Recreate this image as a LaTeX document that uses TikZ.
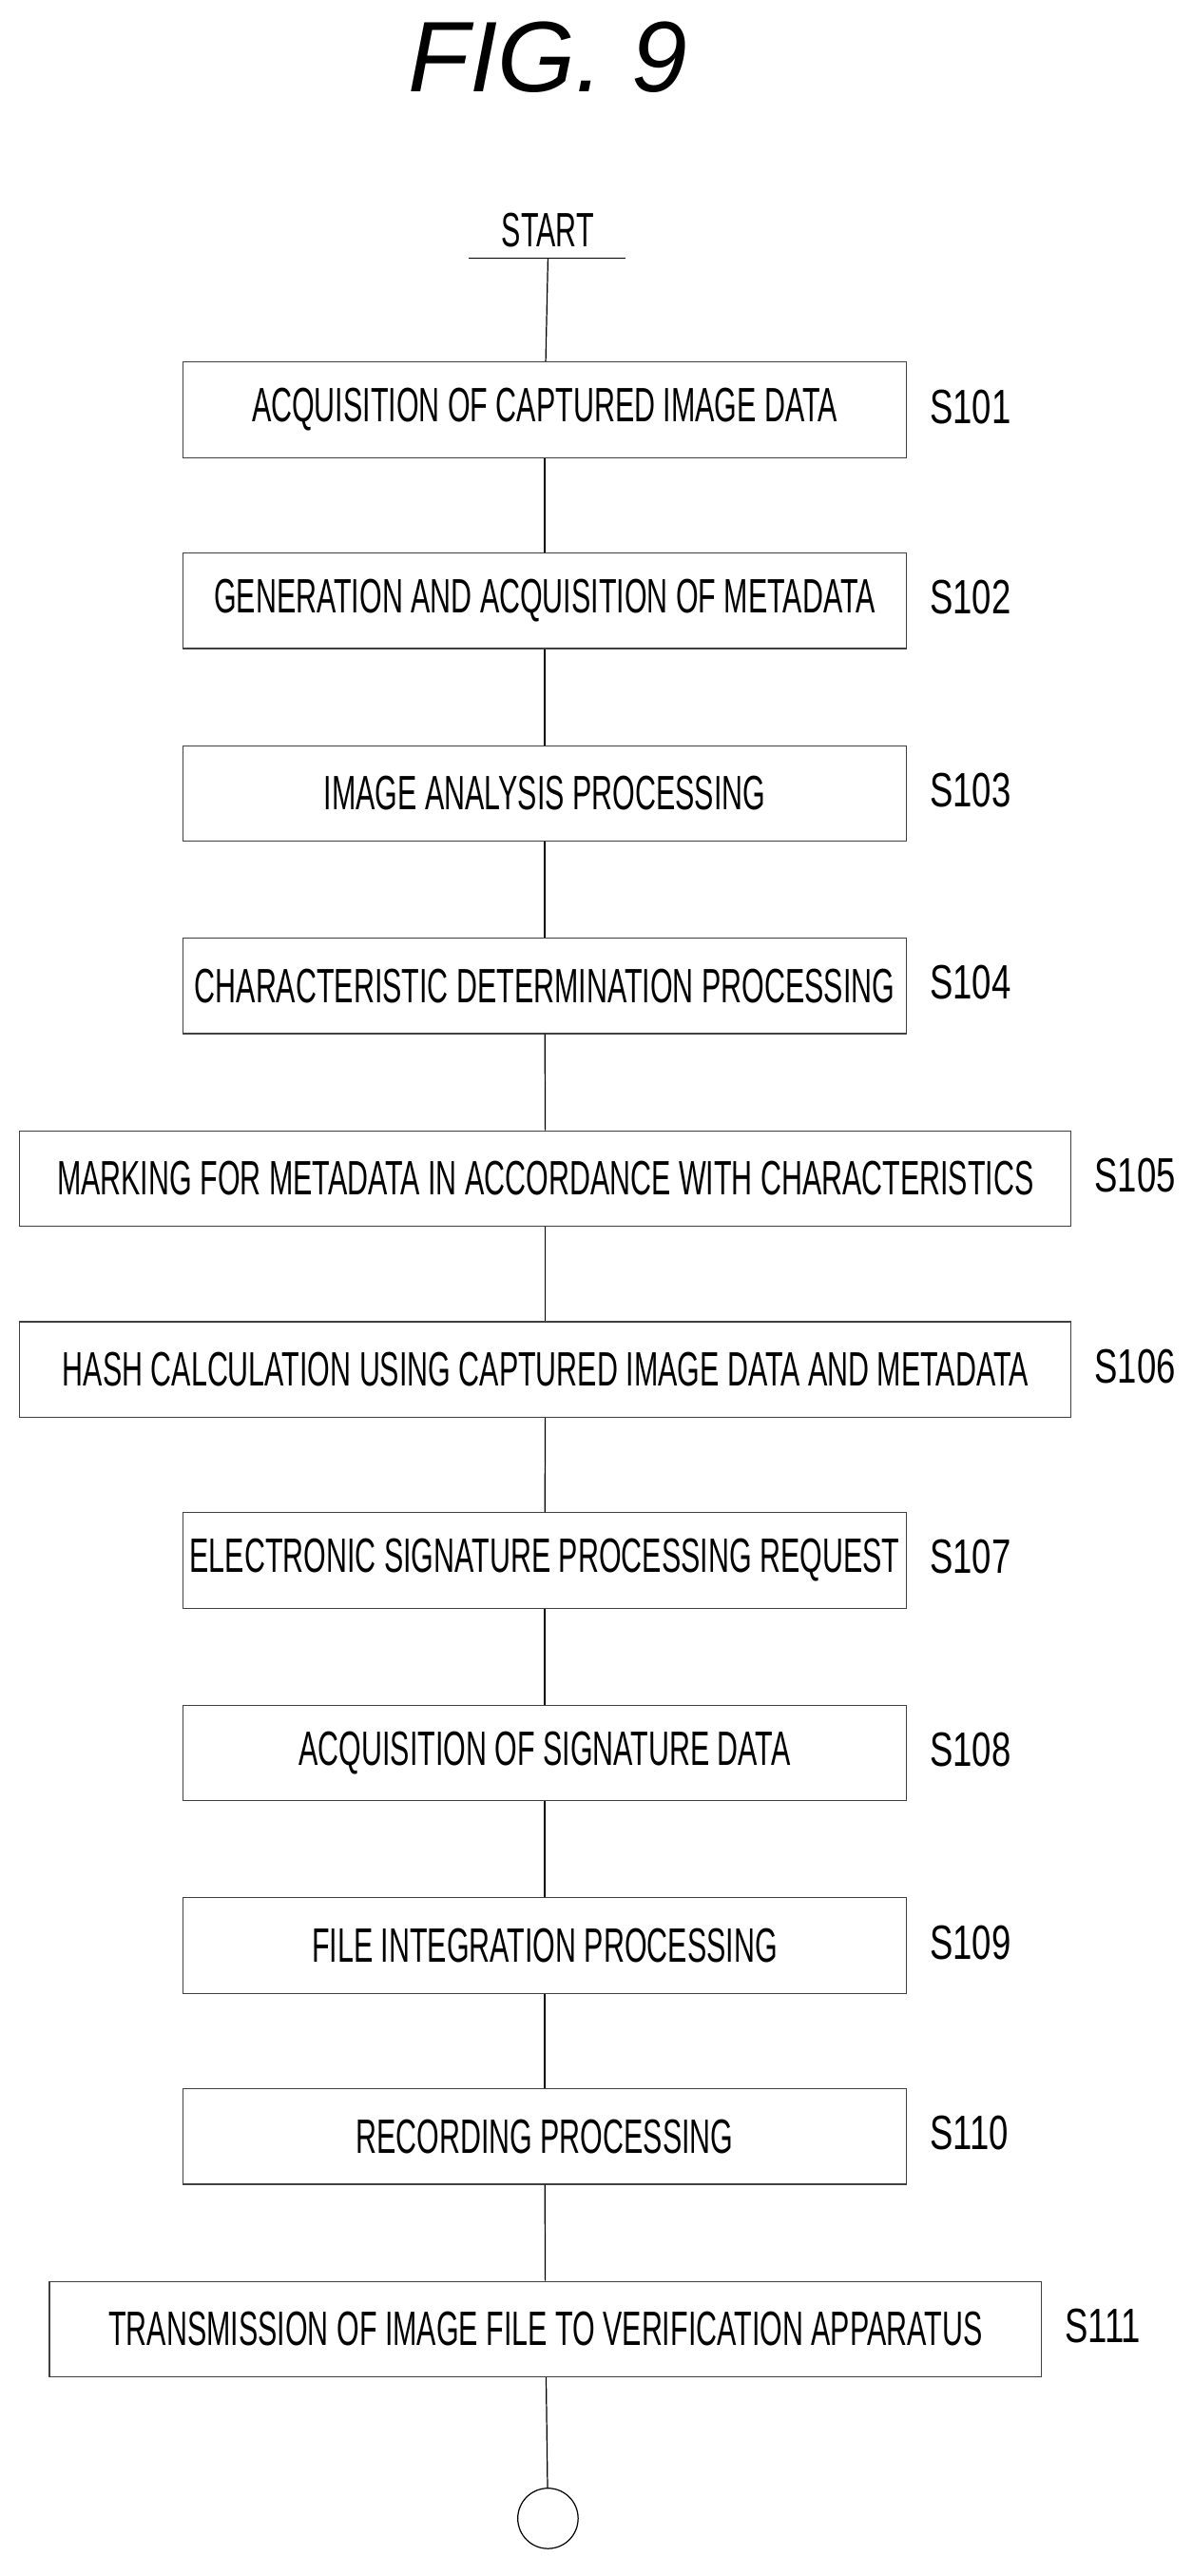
\documentclass[tikz,border=0pt]{standalone}
\usepackage{fontspec}
\setmainfont{Liberation Sans}
\usepackage{graphicx}
\tikzset{
  stepbox/.style={draw=black!75, line width=0.6pt, minimum height=1.74cm, inner sep=0pt},
  steplabel/.style={anchor=west, font=\fontsize{25}{30}\selectfont},
}
\newcommand{\nar}[1]{\scalebox{0.6}[1]{#1}}
\begin{document}
\begin{tikzpicture}[x=0.03cm,y=-0.03cm, font=\fontsize{25}{30}\selectfont]
	\useasboundingbox (0,0) rectangle (725,1565);
	\node (title) at (333,35) {\fontsize{52}{56}\selectfont\itshape FIG. 9};
	\node (start) at (333,140) {\nar{START}};
	\draw[line width=0.6pt] (285,157) -- (380,157);
	\coordinate (s0) at (333,157);
	% steps
	\foreach \n/\y/\l/\r/\t in {
		1/249/111/551/ACQUISITION OF CAPTURED IMAGE DATA,
		2/365/111/551/GENERATION AND ACQUISITION OF METADATA,
		3/482/111/551/IMAGE ANALYSIS PROCESSING,
		4/599/111/551/CHARACTERISTIC DETERMINATION PROCESSING,
		5/716/12/651/MARKING FOR METADATA IN ACCORDANCE WITH CHARACTERISTICS,
		6/832/12/651/HASH CALCULATION USING CAPTURED IMAGE DATA AND METADATA,
		7/948/111/551/ELECTRONIC SIGNATURE PROCESSING REQUEST,
		8/1065/111/551/ACQUISITION OF SIGNATURE DATA,
		9/1182/111/551/FILE INTEGRATION PROCESSING,
		10/1298/111/551/RECORDING PROCESSING,
		11/1415/30/633/TRANSMISSION OF IMAGE FILE TO VERIFICATION APPARATUS}
	{
		\pgfmathsetmacro{\w}{(\r-\l)*0.03}
		\node[stepbox, minimum width=\w cm] (s\n) at ({(\l+\r)/2},\y) {\nar{\t}};
		\node[steplabel] (lab\n) at (\r+10,\y-2) {\scalebox{0.72}[1]{S1\ifnum\n<10 0\fi\n}};
	}
	\foreach \a/\b in {0/1,1/2,2/3,3/4,4/5,5/6,6/7,7/8,8/9,9/10,10/11}
		\draw[line width=0.6pt] (s\a) -- (s\b);
	\node[draw, circle, line width=0.6pt, minimum size=1.1cm] (end) at (333,1530) {};
	\draw[line width=0.6pt] (s11) -- (end);
\end{tikzpicture}
\end{document}
